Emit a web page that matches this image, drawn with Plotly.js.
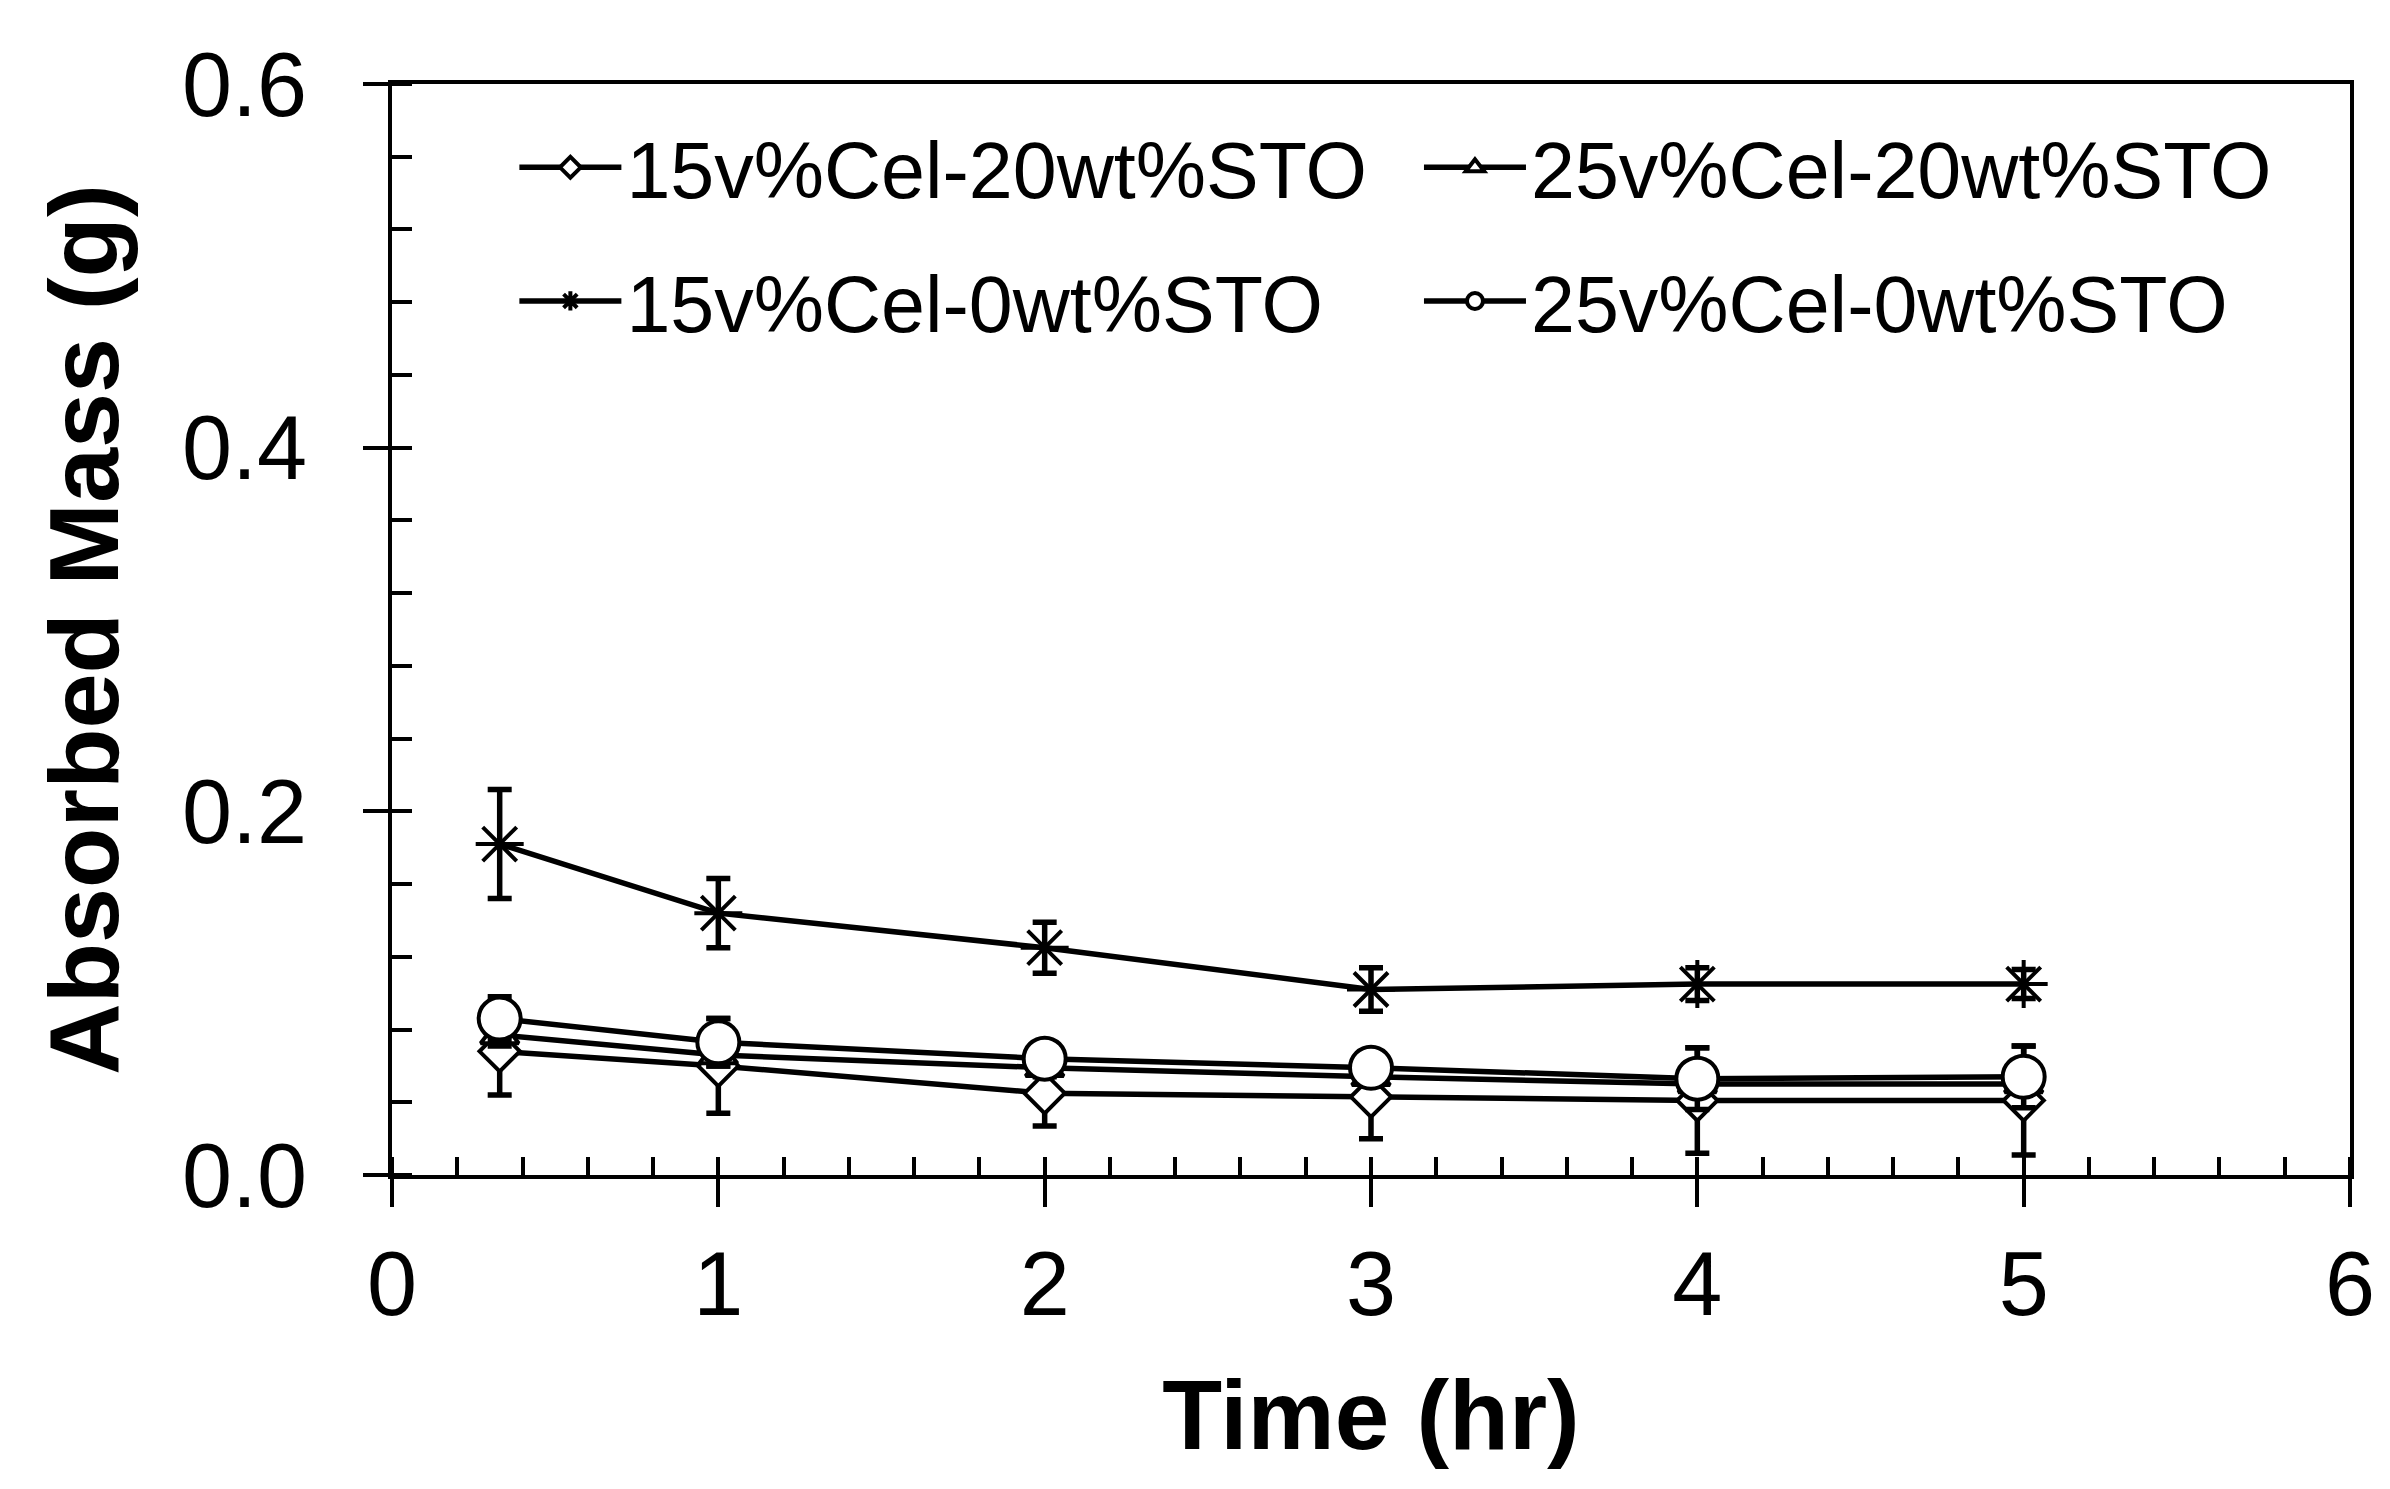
<!DOCTYPE html>
<html>
<head>
<meta charset="utf-8">
<script src="https://cdn.plot.ly/plotly-3.0.1.min.js"></script>
<style>html,body{margin:0;padding:0;background:#fff;}#chart{width:2390px;height:1489px;}</style>
</head>
<body>
<div id="chart"></div>
<script>
// Time (hr)
const time = [0.33, 1, 2, 3, 4, 5];

// Series names
const seriesNames = ["15v%Cel-20wt%STO", "25v%Cel-20wt%STO", "15v%Cel-0wt%STO", "25v%Cel-0wt%STO"];

// Absorbed mass (g)
const cel15_sto20 = [0.068, 0.060, 0.045, 0.043, 0.041, 0.041];
const cel25_sto20 = [0.077, 0.066, 0.059, 0.054, 0.050, 0.050];
const cel15_sto0  = [0.182, 0.144, 0.125, 0.102, 0.105, 0.105];
const cel25_sto0  = [0.086, 0.073, 0.064, 0.059, 0.053, 0.054];

// Error bars (g)
const err15_20 = [0.024, 0.026, 0.018, 0.023, 0.029, 0.030];
const err25_20 = [0.006, 0.006, 0.005, 0.005, 0.005, 0.005];
const err15_0  = [0.030, 0.019, 0.014, 0.012, 0.009, 0.008];
const err25_0  = [0.012, 0.013, 0.005, 0.005, 0.017, 0.017];

// Axis ticks
const yTicks = [0, 0.2, 0.4, 0.6];
const yTickText = ["0.0", "0.2", "0.4", "0.6"];
const xTicks = [0, 1, 2, 3, 4, 5, 6];

const FONT = "Liberation Sans, Arial, sans-serif";

function mk(name, y, err, symbol, size, legend) {
  return {
    x: time, y: y, name: name, type: "scatter", mode: "lines+markers",
    legend: legend,
    line: {color: "#000", width: 5.5},
    marker: {symbol: symbol, size: size, color: "#fff", line: {color: "#000", width: 4}},
    error_y: {type: "data", array: err, visible: true, color: "#000", thickness: 5.5, width: 12}
  };
}

const traces = [
  mk(seriesNames[0], cel15_sto20, err15_20, "diamond", 31, "legend"),
  mk(seriesNames[1], cel25_sto20, err25_20, "triangle-up", 33, "legend2"),
  mk(seriesNames[2], cel15_sto0, err15_0, "asterisk-open", 40, "legend3"),
  mk(seriesNames[3], cel25_sto0, err25_0, "circle", 42, "legend4")
];
traces[2].marker.color = "#000";

const legendCommon = {
  orientation: "h", xanchor: "left", yanchor: "middle",
  font: {family: FONT, size: 79, color: "#000"},
  bgcolor: "rgba(0,0,0,0)", borderwidth: 0,
  itemwidth: 102, itemsizing: "trace"
};

const layout = {
  width: 2390, height: 1489,
  paper_bgcolor: "#fff", plot_bgcolor: "#fff",
  margin: {l: 392, r: 40, t: 84, b: 314},
  font: {family: FONT, color: "#000"},
  showlegend: true,
  legend:  Object.assign({}, legendCommon, {x: 0.0625, y: 0.9235}),
  legend2: Object.assign({}, legendCommon, {x: 0.5245, y: 0.9235}),
  legend3: Object.assign({}, legendCommon, {x: 0.0625, y: 0.801}),
  legend4: Object.assign({}, legendCommon, {x: 0.5245, y: 0.801}),
  xaxis: {
    range: [0, 6], tickvals: xTicks, ticktext: xTicks.map(String),
    ticks: "outside", ticklen: 28, tickwidth: 4, tickcolor: "#000",
    minor: {dtick: 0.2, ticks: "inside", ticklen: 18, tickwidth: 4, tickcolor: "#000"},
    showline: true, linecolor: "#000", linewidth: 4, mirror: true,
    showgrid: false, zeroline: false,
    tickfont: {family: FONT, size: 90, color: "#000"},
    title: {text: "<b>Time (hr)</b>", font: {family: FONT, size: 98, color: "#000"}, standoff: 48}
  },
  yaxis: {
    range: [0, 0.6], tickvals: yTicks, ticktext: yTickText,
    ticks: "outside", ticklen: 25, tickwidth: 4, tickcolor: "#000",
    minor: {dtick: 0.04, ticks: "inside", ticklen: 20, tickwidth: 4, tickcolor: "#000"},
    showline: true, linecolor: "#000", linewidth: 4, mirror: true,
    showgrid: false, zeroline: false, ticklabelstandoff: 38,
    tickfont: {family: FONT, size: 90, color: "#000"},
    title: {text: "<b>Absorbed Mass (g)</b>", font: {family: FONT, size: 99, color: "#000"}, standoff: 31}
  }
};

Plotly.newPlot("chart", traces, layout, {displayModeBar: false, staticPlot: true});
</script>
</body>
</html>
